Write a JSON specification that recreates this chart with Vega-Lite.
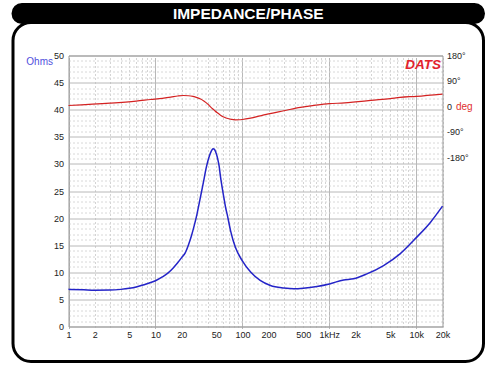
{
  "$schema": "https://vega.github.io/schema/vega-lite/v6.json",
  "padding": {"left": 11, "top": 2.5, "right": 5, "bottom": 5},
  "bounds": "flush",
  "spacing": 0,
  "config": {"font": "Liberation Sans", "view": {"stroke": null}},
  "datasets": {
    "imp": [
      {"f": 1, "z": 6.85}, {"f": 1.5, "z": 6.76}, {"f": 2, "z": 6.7}, {"f": 3, "z": 6.72}, {"f": 4, "z": 6.85},
      {"f": 5, "z": 7.05}, {"f": 6, "z": 7.3}, {"f": 7, "z": 7.6}, {"f": 8, "z": 7.9}, {"f": 10, "z": 8.45},
      {"f": 12, "z": 9.15}, {"f": 14, "z": 9.9}, {"f": 16, "z": 10.8}, {"f": 18, "z": 11.75}, {"f": 20, "z": 12.7},
      {"f": 22, "z": 13.6}, {"f": 24, "z": 15.1}, {"f": 26, "z": 16.8}, {"f": 28, "z": 18.7}, {"f": 30, "z": 20.7},
      {"f": 32, "z": 22.9}, {"f": 34, "z": 25.0}, {"f": 36, "z": 27.0}, {"f": 38, "z": 29.0}, {"f": 40, "z": 30.5},
      {"f": 42, "z": 31.6}, {"f": 44, "z": 32.4}, {"f": 46, "z": 32.8}, {"f": 48, "z": 32.6}, {"f": 50, "z": 31.9},
      {"f": 52, "z": 30.9}, {"f": 54, "z": 29.6}, {"f": 56, "z": 27.6}, {"f": 58, "z": 26.0}, {"f": 61, "z": 23.9},
      {"f": 64, "z": 22.0}, {"f": 67, "z": 20.6}, {"f": 73, "z": 17.7}, {"f": 83, "z": 14.6}, {"f": 99, "z": 12.2},
      {"f": 125, "z": 10.0}, {"f": 160, "z": 8.5}, {"f": 210, "z": 7.56}, {"f": 300, "z": 7.1}, {"f": 390, "z": 6.95},
      {"f": 500, "z": 7.05}, {"f": 720, "z": 7.38}, {"f": 1000, "z": 7.85}, {"f": 1460, "z": 8.6}, {"f": 1900, "z": 8.8},
      {"f": 2700, "z": 9.7}, {"f": 4200, "z": 11.25}, {"f": 6500, "z": 13.4}, {"f": 10000, "z": 16.4}, {"f": 14500, "z": 19.2},
      {"f": 20000, "z": 22.2}
    ],
    "phase": [
      {"f": 1, "p": 3.5}, {"f": 3, "p": 11.6}, {"f": 6, "p": 19}, {"f": 8.8, "p": 24.7}, {"f": 12, "p": 29},
      {"f": 15, "p": 33}, {"f": 18, "p": 37}, {"f": 21, "p": 38.8}, {"f": 24, "p": 38}, {"f": 27, "p": 35.5},
      {"f": 30, "p": 31.5}, {"f": 33, "p": 26.5}, {"f": 36, "p": 19.5}, {"f": 40, "p": 8.5}, {"f": 43, "p": -1.5},
      {"f": 47, "p": -12}, {"f": 51, "p": -21.5}, {"f": 56, "p": -30.5}, {"f": 62, "p": -38}, {"f": 68, "p": -42.5},
      {"f": 75, "p": -45.5}, {"f": 83, "p": -47}, {"f": 92, "p": -46.8}, {"f": 100, "p": -45.8}, {"f": 124, "p": -41},
      {"f": 160, "p": -33}, {"f": 200, "p": -26}, {"f": 300, "p": -15}, {"f": 464, "p": -3}, {"f": 700, "p": 5},
      {"f": 1000, "p": 10.3}, {"f": 1500, "p": 12.5}, {"f": 2000, "p": 16}, {"f": 3000, "p": 21.5}, {"f": 5000, "p": 28},
      {"f": 6500, "p": 32}, {"f": 10000, "p": 36}, {"f": 20000, "p": 44}
    ]
  },
  "vconcat": [
    {
      "width": 470.5,
      "height": 18,
      "view": {"fill": "black", "stroke": "black", "strokeWidth": 3, "cornerRadius": 14},
      "data": {"values": [{"t": "IMPEDANCE/PHASE"}]},
      "mark": {"type": "text", "color": "white", "fontWeight": "bold", "fontSize": 15.5, "font": "Liberation Sans", "dy": 0.5},
      "encoding": {"text": {"field": "t"}}
    },
    {
      "width": 470.5,
      "height": 339,
      "view": {"fill": "white", "stroke": "black", "strokeWidth": 3, "cornerRadius": 18},
      "resolve": {"scale": {"y": "independent"}, "axis": {"x": "independent", "y": "independent"}},
      "layer": [
        {
          "data": {"name": "imp"},
          "mark": {"type": "line", "color": "#2424c8", "strokeWidth": 1.5, "interpolate": "monotone"},
          "encoding": {
            "x": {
              "field": "f", "type": "quantitative",
              "scale": {"type": "log", "domain": [1, 20000], "range": [55.5, 429.5], "nice": false},
              "axis": {
                "orient": "bottom", "offset": -35, "title": null,
                "values": [1,2,3,4,5,6,7,8,9,10,20,30,40,50,60,70,80,90,100,200,300,400,500,600,700,800,900,1000,2000,3000,4000,5000,6000,7000,8000,9000,10000,20000],
                "labelExpr": "indexof([1,2,5,10,20,50,100,200,500,1000,2000,5000,10000,20000], datum.value) >= 0 ? (datum.value == 1000 ? '1kHz' : (datum.value > 1000 ? (datum.value / 1000) + 'k' : datum.value + '')) : ''",
                "grid": true,
                "gridColor": {"condition": {"test": "indexof([1,10,100,1000,10000], datum.value) >= 0", "value": "#b8b8b8"}, "value": "#d4d4d4"},
                "gridDash": {"condition": {"test": "indexof([1,10,100,1000,10000], datum.value) >= 0", "value": []}, "value": [2, 2]},
                "ticks": false, "domainColor": "#999999", "labelPadding": 4, "labelFontSize": 9,
                "labelColor": "#222222", "labelOverlap": false, "labelFlush": false
              }
            },
            "y": {
              "field": "z", "type": "quantitative",
              "scale": {"domain": [0, 50], "range": [304, 33], "nice": false, "zero": false},
              "axis": {
                "orient": "left", "offset": -55.5,
                "values": [0,1,2,3,4,5,6,7,8,9,10,11,12,13,14,15,16,17,18,19,20,21,22,23,24,25,26,27,28,29,30,31,32,33,34,35,36,37,38,39,40,41,42,43,44,45,46,47,48,49,50],
                "labelExpr": "datum.value % 5 === 0 ? datum.label : ''",
                "grid": true,
                "gridColor": {"condition": {"test": "datum.value % 5 === 0", "value": "#b8b8b8"}, "value": "#d8d8d8"},
                "gridDash": {"condition": {"test": "datum.value % 5 === 0", "value": []}, "value": [2, 2]},
                "ticks": false, "domainColor": "#999999", "labelPadding": 5, "labelFontSize": 9,
                "labelColor": "#222222", "labelOverlap": false, "labelFlush": false,
                "title": "Ohms", "titleAngle": 0, "titleX": -16, "titleY": 39, "titleAlign": "right",
                "titleBaseline": "middle", "titleColor": "#5050dd", "titleFontWeight": "normal", "titleFontSize": 10
              }
            }
          }
        },
        {
          "data": {"name": "phase"},
          "mark": {"type": "line", "color": "#d42222", "strokeWidth": 1.2, "interpolate": "monotone"},
          "encoding": {
            "x": {
              "field": "f", "type": "quantitative",
              "axis": {
                "orient": "top", "offset": -33, "labels": false, "ticks": false, "grid": false,
                "domainColor": "#999999",
                "title": "DATS", "titleX": 427.5, "titleY": 8.5, "titleAlign": "right", "titleBaseline": "middle",
                "titleFontStyle": "italic", "titleFontWeight": "bold", "titleFontSize": 13.5, "titleColor": "#e3222b", "titleAngle": 0
              }
            },
            "y": {
              "field": "p", "type": "quantitative",
              "scale": {"domain": [-776.5, 180], "range": [304, 33], "nice": false, "zero": false},
              "axis": {
                "orient": "right", "offset": -41, "values": [-180, -90, 0, 90, 180],
                "labelExpr": "datum.value === 0 ? '0' : datum.value + '°'",
                "grid": false, "ticks": false, "domainColor": "#999999", "labelPadding": 4, "labelFontSize": 9,
                "labelColor": "#222222", "labelOverlap": false, "labelFlush": false,
                "title": "deg", "titleAngle": 0, "titleX": 13, "titleY": 84, "titleAlign": "left",
                "titleBaseline": "middle", "titleColor": "#e03030", "titleFontWeight": "normal", "titleFontSize": 10
              }
            }
          }
        }
      ]
    }
  ]
}
